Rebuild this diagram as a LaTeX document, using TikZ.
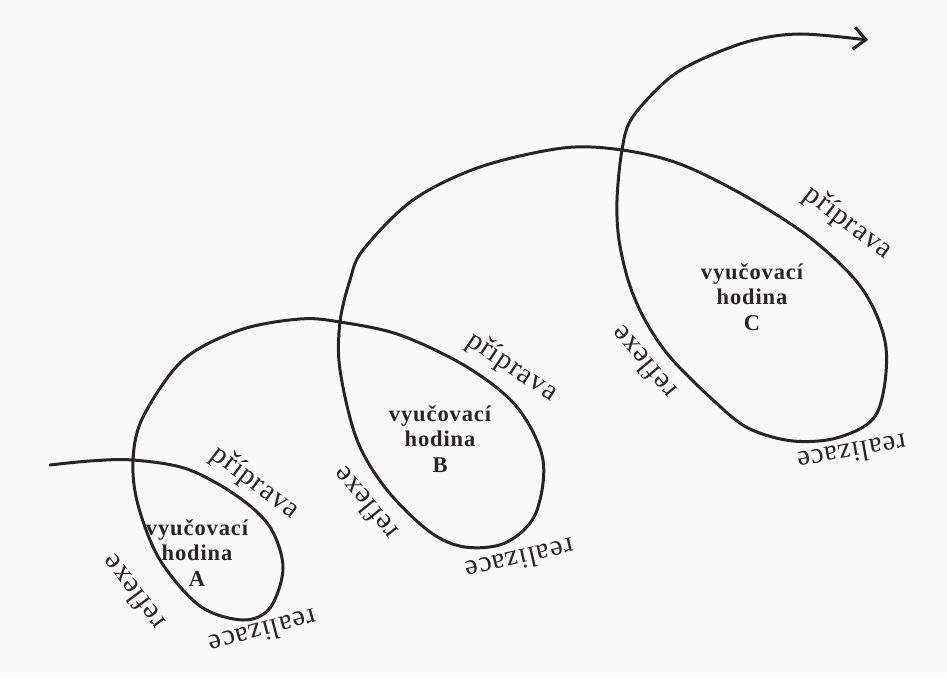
\documentclass[tikz,border=0pt]{standalone}
\usepackage{fontspec}
\setmainfont{Liberation Serif}
\newfontfamily\labfont[LetterSpace=3]{Liberation Serif}
\newfontfamily\boxfont[LetterSpace=4]{Liberation Serif}
\usetikzlibrary{arrows.meta}
\definecolor{bgcol}{RGB}{250,250,250}
\definecolor{ink}{RGB}{40,36,36}
\tikzset{
  spiral/.style={draw=ink, line width=3pt, line cap=round,
    -{Straight Barb[length=12pt,width=22pt,line width=3pt]}},
  phase/.style={text=ink, font=\labfont\fontsize{29}{31}\selectfont, inner sep=0pt},
  lesson/.style={text=ink, align=center, inner sep=0pt,
    font=\boxfont\bfseries\fontsize{22.5}{25.5}\selectfont}
}
\begin{document}
\begin{tikzpicture}[x=1pt,y=-1pt]
\fill[bgcol] (0,0) rectangle (947,677);
\useasboundingbox (0,0) rectangle (947,677);
\draw[spiral] plot[smooth, tension=0.55] coordinates {
 (50,465) (90,461) (133,460) (187,469) (237,496) (270,527) (283,568)
 (270,608) (243,620) (200,606) (160,560) (138,505) (133,460)
 (143,417) (183,360) (240,330) (300,319) (340,322)
 (400,335) (467,367) (517,407) (543,460) (535,515) (505,543) (465,547)
 (430,532) (387,490) (357,440) (340,370) (340,322)
 (350,280) (363,250) (413,200) (480,167) (563,148) (622,150)
 (680,164) (747,197) (813,240) (863,290) (886,348) (877,413) (840,437)
 (793,441) (748,428) (713,400) (670,357) (645,320) (629,283) (619,240) (617,200) (622,150)
 (632,118) (667,80) (700,60) (750,41) (800,34) (868,40)};
% lesson A
\node[lesson] (la) at (197,553) {vyučovací\\hodina\\A};
\node[phase, rotate=-37] (pa) at (255,483) {příprava};
\node[phase, rotate=127] (ra) at (133,593) {reflexe};
\node[phase, rotate=195] (za) at (263,632) {realizace};
% lesson B
\node[lesson] (lb) at (440,439) {vyučovací\\hodina\\B};
\node[phase, rotate=-34] (pb) at (512,367) {příprava};
\node[phase, rotate=129] (rb) at (365,504) {reflexe};
\node[phase, rotate=193] (zb) at (520,560) {realizace};
% lesson C
\node[lesson] (lc) at (752,297) {vyučovací\\hodina\\C};
\node[phase, rotate=-37] (pc) at (848,223) {příprava};
\node[phase, rotate=130] (rc) at (643,363) {reflexe};
\node[phase, rotate=190] (zc) at (852,453) {realizace};
\end{tikzpicture}
\end{document}
